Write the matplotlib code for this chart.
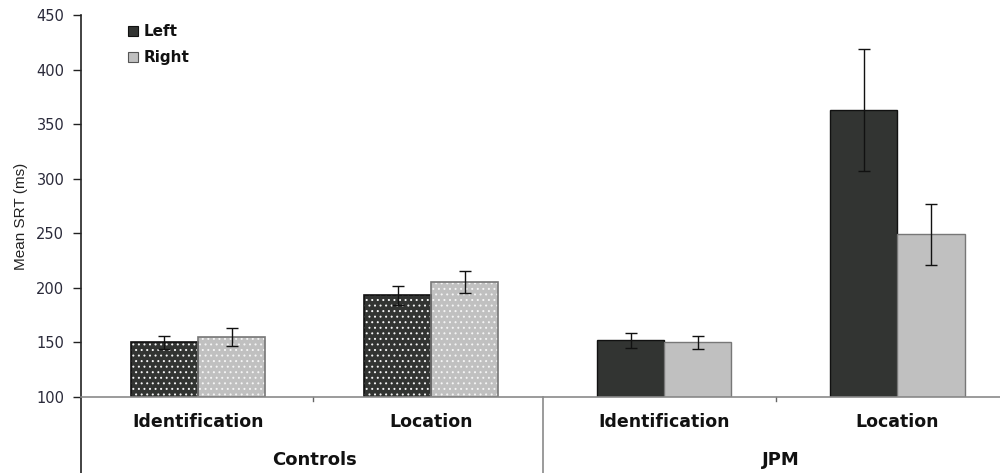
import matplotlib
matplotlib.use("Agg")
import matplotlib.pyplot as plt
from matplotlib.patches import Rectangle
import numpy as np

plt.rcParams['font.family'] = ['DejaVu Sans']
plt.rcParams['hatch.linewidth'] = 0.7

groups = ["Controls", "JPM"]
conditions = ["Identification", "Location", "Identification", "Location"]
left_vals = [150, 193, 152, 363]
right_vals = [155, 205, 150, 249]
left_err = [6, 9, 7, 56]
right_err = [8, 10, 6, 28]
hatched = [True, True, False, False]
yticks = [100, 150, 200, 250, 300, 350, 400, 450]

dark = '#323432'
light = '#c0c0c0'

fig = plt.figure(figsize=(10, 4.73), dpi=100)
ax = fig.add_axes([0.081, 0.161, 0.919, 0.807])

x = np.arange(len(conditions))
w = 0.288
for i in range(len(conditions)):
    for off, val, err, col, ec in [(-w/2, left_vals[i], left_err[i], dark, '#111111'),
                                   (w/2, right_vals[i], right_err[i], light, '#777777')]:
        if hatched[i]:
            ax.bar(x[i] + off, val - 100, w, bottom=100, color=col, edgecolor='#f4f4f4',
                   hatch='...', linewidth=0, zorder=2)
            ax.bar(x[i] + off, val - 100, w, bottom=100, fill=False, edgecolor=ec,
                   linewidth=1.2, zorder=3)
        else:
            ax.bar(x[i] + off, val - 100, w, bottom=100, color=col, edgecolor=ec,
                   linewidth=1.0, zorder=2)
        ax.errorbar(x[i] + off, val, yerr=err, fmt='none', ecolor='#111111',
                    elinewidth=1.0, capsize=4, capthick=1.0, zorder=4)

ax.set_ylim(100, 450)
ax.set_xlim(-0.502, 3.44)
ax.set_yticks(yticks)
ax.set_yticklabels([str(t) for t in yticks], fontsize=10.5, color='#2a2a3a')
ax.tick_params(axis='y', direction='out', length=6, width=1, color='#222222', pad=6)
ax.set_xticks([])
for s in ['top', 'right', 'bottom']:
    ax.spines[s].set_visible(False)
ax.spines['left'].set_color('#222222')
ax.spines['left'].set_linewidth(1.2)
ax.set_ylabel('Mean SRT (ms)', fontsize=11, color='#222222',
              family='Liberation Sans')
ax.yaxis.set_label_coords(-0.058, 0.474)

trans = ax.get_xaxis_transform()
ax.plot([-0.502, 3.44], [0, 0], transform=trans, color='#8a8a8a', lw=1.2, clip_on=False, zorder=5)
ax.plot([-0.502, -0.502], [0, -0.2], transform=trans, color='#222222', lw=1.2, clip_on=False)
ax.plot([1.48, 1.48], [0, -0.2], transform=trans, color='#8a8a8a', lw=1.2, clip_on=False)
for tx in [0.495, 2.48]:
    ax.plot([tx, tx], [0, -0.01], transform=trans, color='#666666', lw=1, clip_on=False)

for i, c in enumerate(conditions):
    ax.text(x[i], -0.066, c, transform=trans, ha='center', va='center',
            fontsize=12.5, fontweight='bold', color='#111111')
for g, gx in zip(groups, [0.5, 2.5]):
    ax.text(gx, -0.165, g, transform=trans, ha='center', va='center',
            fontsize=13, fontweight='bold', color='#111111')

# legend
for yy, col, ec, lab in [(0.958, dark, '#111111', 'Left'), (0.890, light, '#555555', 'Right')]:
    ax.add_patch(Rectangle((0.051, yy - 0.0125), 0.0105, 0.025, transform=ax.transAxes,
                           facecolor=col, edgecolor=ec, lw=0.8, clip_on=False))
    ax.text(0.068, yy, lab, transform=ax.transAxes, ha='left', va='center',
            fontsize=11, fontweight='bold', color='#111111')

fig.savefig('out.png', dpi=100)
